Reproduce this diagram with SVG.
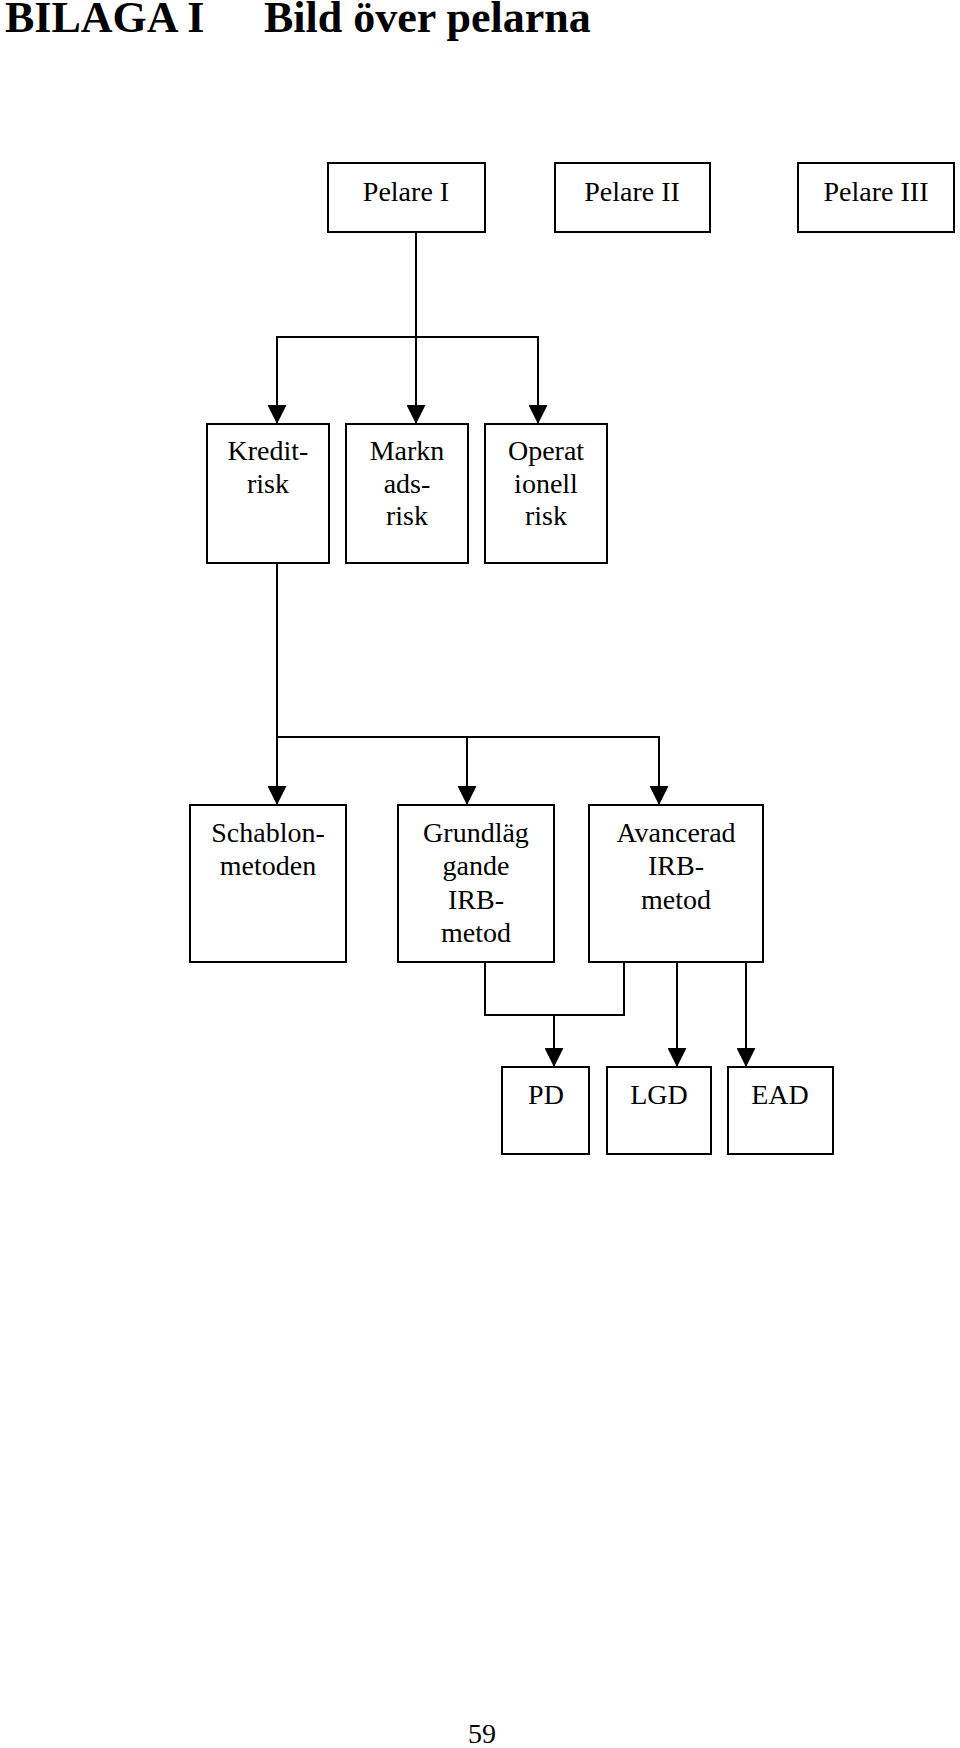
<svg xmlns="http://www.w3.org/2000/svg" width="960" height="1748" viewBox="0 0 960 1748">
<style>
.box{fill:#fff;stroke:#000;stroke-width:2}
.t{font-family:"Liberation Serif","Times New Roman",serif;font-size:28px;fill:#000;text-anchor:middle}
.h{font-family:"Liberation Serif","Times New Roman",serif;font-size:44px;font-weight:bold;fill:#000}
.c{fill:none;stroke:#000;stroke-width:2}
</style>
<defs>
<marker id="arr" viewBox="0 0 19 19" refX="19" refY="9.5" markerWidth="19" markerHeight="19" markerUnits="userSpaceOnUse" orient="auto">
<path d="M0,0 L19,9.5 L0,19 z" fill="#000"/>
</marker>
</defs>
<rect width="960" height="1748" fill="#fff"/>
<text class="h" x="5" y="32">BILAGA I</text>
<text class="h" x="264" y="32">Bild över pelarna</text>

<g id="connectors">
<path class="c" d="M416,232 V424" marker-end="url(#arr)"/>
<path class="c" d="M416,337 H277 V424" marker-end="url(#arr)"/>
<path class="c" d="M416,337 H538 V424" marker-end="url(#arr)"/>
<path class="c" d="M277,563 V805" marker-end="url(#arr)"/>
<path class="c" d="M277,737 H467 V805" marker-end="url(#arr)"/>
<path class="c" d="M467,737 H659 V805" marker-end="url(#arr)"/>
<path class="c" d="M485,962 V1015 H624 V962"/>
<path class="c" d="M554,1015 V1067" marker-end="url(#arr)"/>
<path class="c" d="M677,962 V1067" marker-end="url(#arr)"/>
<path class="c" d="M746,962 V1067" marker-end="url(#arr)"/>
</g>

<g id="pelare1"><rect class="box" x="328" y="163" width="157" height="69"/><text class="t" x="406" y="201">Pelare I</text></g>
<g id="pelare2"><rect class="box" x="555" y="163" width="155" height="69"/><text class="t" x="632" y="201">Pelare II</text></g>
<g id="pelare3"><rect class="box" x="798" y="163" width="156" height="69"/><text class="t" x="876" y="201">Pelare III</text></g>

<g id="kreditrisk"><rect class="box" x="207" y="424" width="122" height="139"/><text class="t" x="268" y="460">Kredit-</text><text class="t" x="268" y="493">risk</text></g>
<g id="marknadsrisk"><rect class="box" x="346" y="424" width="122" height="139"/><text class="t" x="407" y="460">Markn</text><text class="t" x="407" y="493">ads-</text><text class="t" x="407" y="525">risk</text></g>
<g id="operativrisk"><rect class="box" x="485" y="424" width="122" height="139"/><text class="t" x="546" y="460">Operat</text><text class="t" x="546" y="493">ionell</text><text class="t" x="546" y="525">risk</text></g>

<g id="schablon"><rect class="box" x="190" y="805" width="156" height="157"/><text class="t" x="268" y="842">Schablon-</text><text class="t" x="268" y="875">metoden</text></g>
<g id="grundlaggande"><rect class="box" x="398" y="805" width="156" height="157"/><text class="t" x="476" y="842">Grundläg</text><text class="t" x="476" y="875">gande</text><text class="t" x="476" y="909">IRB-</text><text class="t" x="476" y="942">metod</text></g>
<g id="avancerad"><rect class="box" x="589" y="805" width="174" height="157"/><text class="t" x="676" y="842">Avancerad</text><text class="t" x="676" y="875">IRB-</text><text class="t" x="676" y="909">metod</text></g>

<g id="pd"><rect class="box" x="502" y="1067" width="87" height="87"/><text class="t" x="546" y="1104">PD</text></g>
<g id="lgd"><rect class="box" x="607" y="1067" width="104" height="87"/><text class="t" x="659" y="1104">LGD</text></g>
<g id="ead"><rect class="box" x="728" y="1067" width="105" height="87"/><text class="t" x="780" y="1104">EAD</text></g>

<text class="t" x="482" y="1743">59</text>
</svg>
